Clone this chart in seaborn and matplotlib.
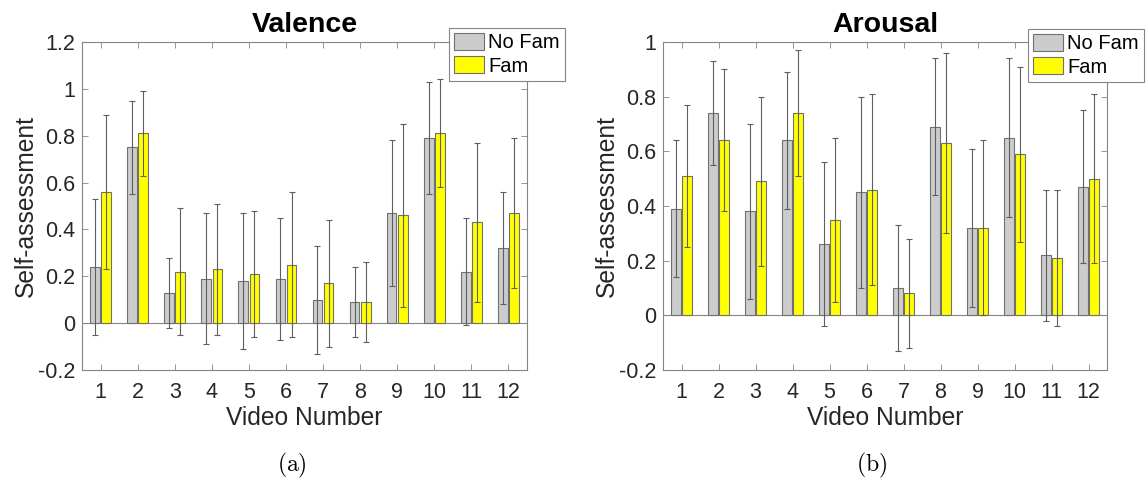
import matplotlib
matplotlib.use("Agg")
import matplotlib.pyplot as plt
from matplotlib.patches import Patch
import pandas as pd
import seaborn as sns

# Self-assessment ratings per video, mean and spread for each group
videos = [str(i) for i in range(1, 13)]
groups = ["No Fam", "Fam"]

valence_nofam = [0.24, 0.75, 0.13, 0.19, 0.18, 0.19, 0.10, 0.09, 0.47, 0.79, 0.22, 0.32]
valence_nofam_err = [0.29, 0.20, 0.15, 0.28, 0.29, 0.26, 0.23, 0.15, 0.31, 0.24, 0.23, 0.24]
valence_fam = [0.56, 0.81, 0.22, 0.23, 0.21, 0.25, 0.17, 0.09, 0.46, 0.81, 0.43, 0.47]
valence_fam_err = [0.33, 0.18, 0.27, 0.28, 0.27, 0.31, 0.27, 0.17, 0.39, 0.23, 0.34, 0.32]

arousal_nofam = [0.39, 0.74, 0.38, 0.64, 0.26, 0.45, 0.10, 0.69, 0.32, 0.65, 0.22, 0.47]
arousal_nofam_err = [0.25, 0.19, 0.32, 0.25, 0.30, 0.35, 0.23, 0.25, 0.29, 0.29, 0.24, 0.28]
arousal_fam = [0.51, 0.64, 0.49, 0.74, 0.35, 0.46, 0.08, 0.63, 0.32, 0.59, 0.21, 0.50]
arousal_fam_err = [0.26, 0.26, 0.31, 0.23, 0.30, 0.35, 0.20, 0.33, 0.32, 0.32, 0.25, 0.31]

valence_yticks = [-0.2, 0, 0.2, 0.4, 0.6, 0.8, 1, 1.2]
arousal_yticks = [-0.2, 0, 0.2, 0.4, 0.6, 0.8, 1]

colors = {"No Fam": "#cccccc", "Fam": "#ffff00"}
EDGE = "#707070"
AXIS_GREY = "#858585"
TEXT = "#262626"

sns.set_theme(style="white")
plt.rcParams["font.family"] = ["Liberation Sans", "DejaVu Sans"]
plt.rcParams["mathtext.fontset"] = "cm"

W, H = 1146, 484
fig = plt.figure(figsize=(W / 100, H / 100), dpi=100)


def panel(rect, title, nofam, nofam_err, fam, fam_err, yticks, legend_corner, caption, caption_x):
    ax = fig.add_axes(rect)
    df = pd.DataFrame({
        "video": videos * 2,
        "group": [groups[0]] * len(videos) + [groups[1]] * len(videos),
        "score": nofam + fam,
    })
    sns.barplot(data=df, x="video", y="score", hue="group", order=videos,
                hue_order=groups, palette=colors, width=0.6, gap=0.13,
                errorbar=None, saturation=1, edgecolor=EDGE, linewidth=0.8,
                legend=False, ax=ax)
    for container, errs in zip(ax.containers, [nofam_err, fam_err]):
        xs = [p.get_x() + p.get_width() / 2 for p in container]
        ax.errorbar(xs, container.datavalues, yerr=errs, fmt="none",
                    ecolor="#5e5e5e", elinewidth=0.8, capsize=2.0,
                    capthick=0.8, zorder=3)
    ax.axhline(0, color=AXIS_GREY, lw=0.8, zorder=0.9)

    ax.set_xlim(-0.5, len(videos) - 0.5)
    ax.set_ylim(yticks[0], yticks[-1])
    ax.set_yticks(yticks)
    ax.set_yticklabels([f"{v:g}" for v in yticks])
    ax.tick_params(direction="in", top=True, right=True, bottom=True, left=True,
                   length=4, width=0.6, color=AXIS_GREY, labelsize=15.5,
                   labelcolor=TEXT, pad=5)
    ax.tick_params(axis="x", pad=9)
    for s in ax.spines.values():
        s.set_color(AXIS_GREY)
        s.set_linewidth(0.8)

    ax.set_title(title, fontsize=20.5, fontweight="bold", color="black", pad=7)
    ax.set_xlabel("Video Number", fontsize=17.7, color=TEXT, labelpad=2)
    ax.set_ylabel("Self-assessment", fontsize=17.7, color=TEXT, labelpad=0)

    handles = [Patch(facecolor=colors[g], edgecolor=EDGE, linewidth=0.8) for g in groups]
    leg = ax.legend(handles, groups, loc="upper right",
                    bbox_to_anchor=legend_corner, bbox_transform=fig.transFigure,
                    fontsize=14.5, frameon=True, fancybox=False, framealpha=1,
                    edgecolor=AXIS_GREY, borderpad=0.25, borderaxespad=0,
                    handlelength=1.5, handleheight=0.9, handletextpad=0.2,
                    labelspacing=0.2)
    leg.get_frame().set_linewidth(0.8)
    for t in leg.get_texts():
        t.set_color("black")

    fig.text(caption_x, 1 - 465 / H, caption, fontsize=17, ha="center",
             va="center", color="black")
    return ax


top, bottom = 42, 370
panel([82 / W, 1 - bottom / H, (527 - 82) / W, (bottom - top) / H], "Valence",
      valence_nofam, valence_nofam_err, valence_fam, valence_fam_err,
      valence_yticks, (565 / W, 1 - 28 / H), r"$\mathrm{(a)}$", 292 / W)
panel([663 / W, 1 - bottom / H, (1107 - 663) / W, (bottom - top) / H], "Arousal",
      arousal_nofam, arousal_nofam_err, arousal_fam, arousal_fam_err,
      arousal_yticks, (1144 / W, 1 - 29 / H), r"$\mathrm{(b)}$", 872 / W)

fig.savefig("out.png", dpi=100, facecolor="white")
